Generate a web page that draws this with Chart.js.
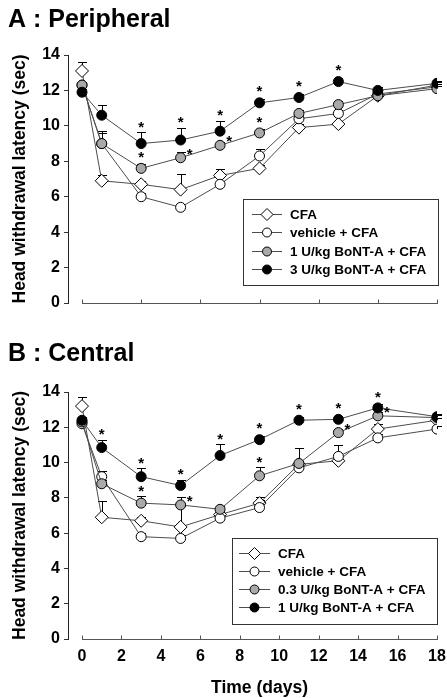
<!DOCTYPE html>
<html>
<head>
<meta charset="utf-8">
<script src="https://cdn.jsdelivr.net/npm/chart.js@4"></script>
<style>
  html, body { margin: 0; padding: 0; background: #fff; }
  #wrap { position: relative; width: 447px; height: 698px; }
  .panel { position: absolute; left: 0; width: 447px; }
  #boxA { top: 0; height: 320px; }
  #boxB { top: 320px; height: 378px; }
</style>
</head>
<body>
<div id="wrap">
  <div class="panel" id="boxA"><canvas id="chartA"></canvas></div>
  <div class="panel" id="boxB"><canvas id="chartB"></canvas></div>
</div>
<script>
var days = [0, 1, 3, 5, 7, 9, 11, 13, 15, 18];
var xTicksA = [0, 3, 6, 9, 12, 15, 18];
var xTicksB = [0, 2, 4, 6, 8, 10, 12, 14, 16, 18];
var yTicks = [0, 2, 4, 6, 8, 10, 12, 14];

// A : Peripheral
var cfaA     = [13.1, 6.9, 6.7, 6.4, 7.2, 7.6, 9.9, 10.1, 11.7, 12.3];
var vehA     = [12.3, 9.0, 6.0, 5.4, 6.7, 8.3, 10.4, 10.7, 11.8, 12.2];
var bont1A   = [12.3, 9.0, 7.6, 8.2, 8.9, 9.6, 10.7, 11.2, 11.7, 12.1];
var bont3A   = [11.9, 10.6, 9.0, 9.2, 9.7, 11.3, 11.6, 12.5, 12.0, 12.4];
var cfaErrA   = [0.5, 0.3, 0.2, 0.9, 0.35, 0.2, 0.2, 0.2, 0.2, 0.15];
var vehErrA   = [0.2, 0.6, 0.2, 0.2, 0.2, 0.4, 0.2, 0.2, 0.2, 0.15];
var bont1ErrA = [0.2, 0.7, 0.25, 0.3, 0.2, 0.2, 0.2, 0.2, 0.2, 0.15];
var bont3ErrA = [0.2, 0.6, 0.65, 0.7, 0.6, 0.2, 0.2, 0.2, 0.2, 0.15];
// significance: 0 none, 1 above, 2 beside
var bont1StarA = [0, 0, 1, 2, 2, 1, 0, 0, 0, 0];
var bont3StarA = [0, 0, 1, 1, 1, 1, 1, 1, 0, 0];

// B : Central
var cfaB     = [13.2, 6.9, 6.7, 6.35, 7.05, 7.7, 9.9, 10.1, 11.9, 12.4];
var vehB     = [12.2, 9.2, 5.8, 5.7, 6.85, 7.45, 9.7, 10.35, 11.4, 11.9];
var bont03B  = [12.3, 8.8, 7.7, 7.6, 7.35, 9.25, 9.95, 11.7, 12.65, 12.55];
var bont1B   = [12.4, 10.85, 9.2, 8.7, 10.4, 11.3, 12.4, 12.45, 13.1, 12.6];
var cfaErrB    = [0.5, 0.95, 0.2, 1.2, 0.2, 0.2, 0.2, 0.2, 0.3, 0.15];
var vehErrB    = [0.2, 0.3, 0.2, 0.2, 0.2, 0.6, 0.2, 0.65, 0.2, 0.15];
var bont03ErrB = [0.2, 0.2, 0.4, 0.45, 0.2, 0.5, 0.85, 0.2, 0.2, 0.15];
var bont1ErrB  = [0.2, 0.45, 0.5, 0.3, 0.65, 0.2, 0.2, 0.2, 0.2, 0.15];
var bont03StarB = [0, 0, 1, 2, 0, 1, 0, 2, 2, 0];
var bont1StarB  = [0, 1, 1, 1, 1, 1, 1, 1, 1, 0];

var noStars = [0, 0, 0, 0, 0, 0, 0, 0, 0, 0];

var FAMILY = 'Arial, "Liberation Sans", sans-serif';
Chart.defaults.font.family = FAMILY;
Chart.defaults.color = '#000';

function pts(vals) {
  return days.map(function (d, i) { return { x: d, y: vals[i] }; });
}

function series(label, vals, errs, stars, style, fill, radius, order) {
  return {
    label: label,
    data: pts(vals),
    errors: errs,
    stars: stars,
    pointStyle: style,
    pointRadius: radius,
    pointHoverRadius: radius,
    pointBackgroundColor: fill,
    pointBorderColor: '#000',
    pointBorderWidth: 1,
    borderColor: '#4d4d4d',
    borderWidth: 1,
    tension: 0,
    fill: false,
    order: order
  };
}

// axis line, error bars, stars, boxed legend, axis labels
var panelPlugin = {
  id: 'panel',
  beforeDatasetsDraw: function (chart) {
    var ctx = chart.ctx, xs = chart.scales.x, ys = chart.scales.y, area = chart.chartArea;
    ctx.save();
    ctx.strokeStyle = '#555';
    ctx.lineWidth = 1;
    var y0 = Math.round(area.bottom) + 0.5;
    var first = xs.ticks[0].value, last = xs.ticks[xs.ticks.length - 1].value;
    ctx.beginPath();
    ctx.moveTo(Math.round(xs.getPixelForValue(first)), y0);
    ctx.lineTo(Math.round(xs.getPixelForValue(last)) + 1, y0);
    xs.ticks.forEach(function (t) {
      var px = Math.round(xs.getPixelForValue(t.value)) + 0.5;
      ctx.moveTo(px, y0);
      ctx.lineTo(px, y0 - 4);
    });
    ctx.stroke();

    ctx.strokeStyle = '#000';
    chart.data.datasets.forEach(function (d) {
      d.data.forEach(function (p, j) {
        var px = Math.round(xs.getPixelForValue(p.x)) + 0.5;
        var pa = ys.getPixelForValue(p.y);
        var pb = Math.round(ys.getPixelForValue(p.y + d.errors[j])) + 0.5;
        ctx.beginPath();
        ctx.moveTo(px, pa);
        ctx.lineTo(px, pb);
        ctx.moveTo(px - 4.5, pb);
        ctx.lineTo(px + 4.5, pb);
        ctx.stroke();
      });
    });
    ctx.restore();
  },
  afterDatasetsDraw: function (chart) {
    var ctx = chart.ctx, xs = chart.scales.x, ys = chart.scales.y;
    ctx.save();
    ctx.fillStyle = '#000';
    ctx.font = 'bold 15px ' + FAMILY;
    ctx.textAlign = 'center';
    ctx.textBaseline = 'middle';
    chart.data.datasets.forEach(function (d) {
      d.data.forEach(function (p, j) {
        var s = d.stars[j];
        if (!s) return;
        var px = xs.getPixelForValue(p.x), py = ys.getPixelForValue(p.y);
        var sx, sy;
        if (s === 1) {
          var top = Math.min(ys.getPixelForValue(p.y + d.errors[j]), py - d.pointRadius - 1);
          sx = px; sy = top - 7.5;
        } else {
          sx = px + 9; sy = py - 6;
        }
        ctx.fillText('*', sx, sy + 3);
      });
    });
    ctx.restore();
  },
  afterDraw: function (chart, args, opts) {
    var ctx = chart.ctx, area = chart.chartArea, xs = chart.scales.x;
    var lg = opts.legend;
    var bx = Math.round(area.right + lg.right - lg.width);
    var by = Math.round(area.bottom - lg.bottom - lg.height);
    ctx.save();
    ctx.fillStyle = '#fff';
    ctx.fillRect(bx, by, lg.width, lg.height);
    ctx.strokeStyle = '#333';
    ctx.lineWidth = 1;
    ctx.strokeRect(bx + 0.5, by + 0.5, lg.width, lg.height);
    chart.data.datasets.forEach(function (d, i) {
      var cy = Math.round(by + lg.rowTop + i * lg.rowGap) + 0.5;
      ctx.strokeStyle = d.borderColor;
      ctx.beginPath();
      ctx.moveTo(bx + lg.lineX[0], cy);
      ctx.lineTo(bx + lg.lineX[1], cy);
      ctx.stroke();
      ctx.fillStyle = d.pointBackgroundColor;
      ctx.strokeStyle = '#000';
      Chart.helpers.drawPoint(ctx, { pointStyle: d.pointStyle, radius: d.pointRadius - 0.5, rotation: 0, borderWidth: 1 },
        bx + (lg.lineX[0] + lg.lineX[1]) / 2, cy);
      ctx.fillStyle = '#000';
      ctx.font = 'bold 13.5px ' + FAMILY;
      ctx.textAlign = 'left';
      ctx.textBaseline = 'middle';
      ctx.fillText(d.label, bx + lg.textX, cy + 0.5);
    });

    ctx.fillStyle = '#000';
    ctx.textAlign = 'center';
    ctx.textBaseline = 'middle';
    if (opts.xLabel) {
      var first = xs.ticks[0].value, last = xs.ticks[xs.ticks.length - 1].value;
      ctx.font = 'bold 17.5px ' + FAMILY;
      ctx.fillText(opts.xLabel.text, (xs.getPixelForValue(first) + xs.getPixelForValue(last)) / 2,
        area.bottom + opts.xLabel.dy);
    }

    var yl = opts.yLabel;
    ctx.translate(yl.x, (area.top + area.bottom) / 2);
    ctx.rotate(-Math.PI / 2);
    ctx.font = 'bold 17.5px ' + FAMILY;
    ctx.fillText(yl.text, 0, 0);
    ctx.restore();
  }
};

function makeChart(id, title, titlePad, sets, xTicks, showX, xHeight, panelOpts) {
  return new Chart(document.getElementById(id), {
    type: 'line',
    data: { datasets: sets },
    options: {
      animation: false,
      responsive: true,
      maintainAspectRatio: false,
      layout: { padding: { left: 8, right: 10, top: 0, bottom: 0 } },
      plugins: {
        legend: { display: false },
        tooltip: { enabled: false },
        title: {
          display: true,
          text: title,
          align: 'start',
          color: '#000',
          font: { size: 25, weight: 'bold' },
          padding: titlePad
        },
        panel: panelOpts
      },
      scales: {
        x: {
          type: 'linear',
          min: -0.71,
          max: 18,
          afterBuildTicks: function (s) { s.ticks = xTicks.map(function (v) { return { value: v }; }); },
          afterFit: function (s) {
            s.height = xHeight;
            s.paddingLeft = 0;
            s.paddingRight = 0;
          },
          grid: { display: false, drawTicks: false },
          border: { display: false },
          ticks: { display: showX, padding: 8, font: { size: 16, weight: 'bold' } }
        },
        y: {
          min: 0,
          max: 14,
          afterBuildTicks: function (s) { s.ticks = yTicks.map(function (v) { return { value: v }; }); },
          afterFit: function (s) { s.width = 60; },
          grid: { drawOnChartArea: false, drawTicks: true, tickLength: 4, tickColor: '#333' },
          border: { display: true, color: '#222', width: 1 },
          ticks: { padding: 4, font: { size: 16, weight: 'bold' } }
        }
      }
    },
    plugins: [panelPlugin]
  });
}

makeChart('chartA', 'A : Peripheral', { top: 5, bottom: 20 }, [
  series('CFA', cfaA, cfaErrA, noStars, 'rectRot', '#fff', 6.5, 4),
  series('vehicle + CFA', vehA, vehErrA, noStars, 'circle', '#fff', 5, 3),
  series('1 U/kg BoNT-A + CFA', bont1A, bont1ErrA, bont1StarA, 'circle', '#a9a9a9', 5, 2),
  series('3 U/kg BoNT-A + CFA', bont3A, bont3ErrA, bont3StarA, 'circle', '#000', 5, 1)
], xTicksA, false, 17, {
  legend: { right: 1, bottom: 18, width: 195, height: 86, rowTop: 14.5, rowGap: 18.5, lineX: [9, 39], textX: 47 },
  yLabel: { text: 'Head withdrawal latency (sec)', x: 20.5 }
});

makeChart('chartB', 'B : Central', { top: 19.5, bottom: 22.5 }, [
  series('CFA', cfaB, cfaErrB, noStars, 'rectRot', '#fff', 6.5, 4),
  series('vehicle + CFA', vehB, vehErrB, noStars, 'circle', '#fff', 5, 3),
  series('0.3 U/kg BoNT-A + CFA', bont03B, bont03ErrB, bont03StarB, 'circle', '#a9a9a9', 5, 2),
  series('1 U/kg BoNT-A + CFA', bont1B, bont1ErrB, bont1StarB, 'circle', '#000', 5, 1)
], xTicksB, true, 59, {
  legend: { right: 0, bottom: 15, width: 205, height: 86, rowTop: 15, rowGap: 18, lineX: [7, 38], textX: 46 },
  yLabel: { text: 'Head withdrawal latency (sec)', x: 20.5 },
  xLabel: { text: 'Time (days)', dy: 49 }
});
</script>
</body>
</html>
